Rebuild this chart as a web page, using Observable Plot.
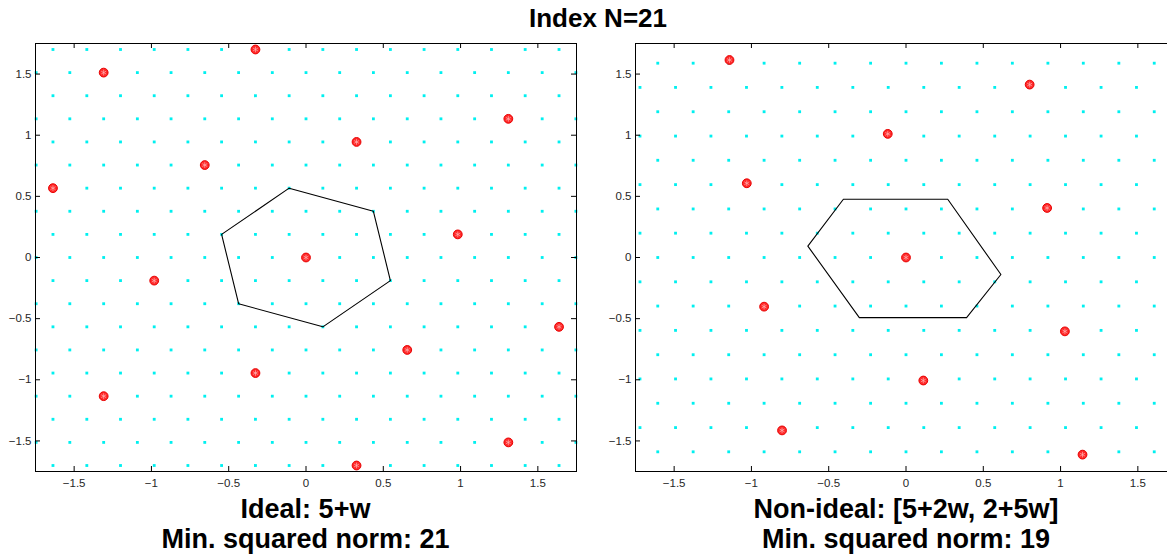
<!DOCTYPE html>
<html><head><meta charset="utf-8">
<script src="https://cdn.jsdelivr.net/npm/d3@7"></script>
<script src="https://cdn.jsdelivr.net/npm/@observablehq/plot@0.6"></script>
<style>
html,body{margin:0;padding:0;background:#fff;overflow:hidden;}
#fig{position:relative;width:1167px;height:557px;overflow:hidden;background:#fff;font-family:"Liberation Sans",Arial,Helvetica,sans-serif;}
.txt{position:absolute;font-weight:bold;color:#000;text-align:center;white-space:nowrap;transform:translateX(-50%);}
.panel{position:absolute;top:0;}
</style></head><body><div id="fig"></div>
<script>
// ---------- data ----------
const title = "Index N=21";
const leftCaption = ["Ideal: 5+w", "Min. squared norm: 21"];
const rightCaption = ["Non-ideal: [5+2w, 2+5w]", "Min. squared norm: 19"];

const ticks = [-1.5, -1, -0.5, 0, 0.5, 1, 1.5];
const tickLabels = ["\u22121.5", "\u22121", "\u22120.5", "0", "0.5", "1", "1.5"];

// left panel: cyan lattice rows/columns
const leftRowsA = [-1.512, -1.134, -0.756, -0.378, 0, 0.378, 0.756, 1.134, 1.512];
const leftColsA = [-1.746, -1.528, -1.309, -1.091, -0.873, -0.655, -0.436, -0.218, 0, 0.218, 0.436, 0.655, 0.873, 1.091, 1.309, 1.528, 1.746];
const leftRowsB = [-1.701, -1.323, -0.945, -0.567, -0.189, 0.189, 0.567, 0.945, 1.323, 1.701];
const leftColsB = [-1.637, -1.418, -1.200, -0.982, -0.764, -0.546, -0.327, -0.109, 0.109, 0.327, 0.546, 0.764, 0.982, 1.200, 1.418, 1.637];
// left panel: red sublattice points
const leftRedX = [-0.327, -1.309, 1.309, 0.327, -0.655, -1.637, 0.982, 0, -0.982, 1.637, 0.655, -0.327, -1.309, 1.309, 0.327];
const leftRedY = [1.701, 1.512, 1.134, 0.945, 0.756, 0.567, 0.189, 0, -0.189, -0.567, -0.756, -0.945, -1.134, -1.512, -1.701];
// left panel: cell polygon
const leftCellX = [-0.109, 0.436, 0.546, 0.109, -0.436, -0.546];
const leftCellY = [0.567, 0.378, -0.189, -0.567, -0.378, 0.189];

// right panel: cyan lattice rows/columns
const rightRowsA = [-1.589, -1.192, -0.795, -0.397, 0, 0.397, 0.795, 1.192, 1.589];
const rightColsA = [-1.606, -1.377, -1.147, -0.918, -0.688, -0.459, -0.229, 0, 0.229, 0.459, 0.688, 0.918, 1.147, 1.377, 1.606];
const rightRowsB = [-1.391, -0.993, -0.596, -0.199, 0.199, 0.596, 0.993, 1.391];
const rightColsB = [-1.721, -1.491, -1.262, -1.032, -0.803, -0.574, -0.344, -0.115, 0.115, 0.344, 0.574, 0.803, 1.032, 1.262, 1.491, 1.721];
// right panel: red points
const rightRedX = [-1.142, -1.030, -0.118, 0.800, 0.913, 0, -0.918, -0.802, 1.028, 0.112, 1.142];
const rightRedY = [1.615, 0.607, 1.011, 1.414, 0.405, 0, -0.402, -1.414, -0.604, -1.006, -1.612];
// right panel: cell polygon
const rightCellX = [-0.405, 0.270, 0.614, 0.392, -0.302, -0.635];
const rightCellY = [0.476, 0.476, -0.139, -0.492, -0.492, 0.093];

// ---------- build tables ----------
function lattice(rowsA, colsA, rowsB, colsB) {
  const pts = [];
  for (const y of rowsA) for (const x of colsA) pts.push({x, y});
  for (const y of rowsB) for (const x of colsB) pts.push({x, y});
  return pts;
}
const zip = (xs, ys) => xs.map((x, i) => ({x, y: ys[i]}));

const fmt = d => tickLabels[ticks.indexOf(d)];

function panel(dots, red, cell) {
  const W = 541, H = 428, mL = 35, mT = 43, mR = 10, mB = 30;
  const tick = 5;
  return Plot.plot({
    width: mL + W + mR,
    height: mT + H + mB,
    marginLeft: mL, marginRight: mR, marginTop: mT, marginBottom: mB,
    style: {fontFamily: '"Liberation Sans", Arial, Helvetica, sans-serif', fontSize: "11.5px", color: "#262626", background: "transparent", overflow: "visible"},
    x: {domain: [-1.75, 1.75], axis: null},
    y: {domain: [-1.75, 1.75], axis: null},
    marks: [
      Plot.dot(dots, {x: "x", y: "y", symbol: "square", r: 1.6, fill: "#00f0f0"}),
      Plot.line(cell, {x: "x", y: "y", curve: "linear-closed", stroke: "#000", strokeWidth: 1.1}),
      Plot.dot(red, {x: "x", y: "y", r: 4.4, fill: "#ff2a2a", stroke: "#e80000", strokeWidth: 1}),
      Plot.dot(red, {x: "x", y: "y", symbol: "asterisk", r: 2.6, stroke: "#ffb3b3", strokeWidth: 0.7}),
      Plot.frame({stroke: "#000", strokeWidth: 1}),
      Plot.ruleX(ticks, {x: d => d, insetTop: H - tick, stroke: "#000"}),
      Plot.ruleX(ticks, {x: d => d, insetBottom: H - tick, stroke: "#000"}),
      Plot.ruleY(ticks, {y: d => d, insetRight: W - tick, stroke: "#000"}),
      Plot.ruleY(ticks, {y: d => d, insetLeft: W - tick, stroke: "#000"}),
      Plot.axisX({ticks, tickSize: 0, tickPadding: 7, tickFormat: fmt, anchor: "bottom", fill: "#262626", label: null}),
      Plot.axisY({ticks, tickSize: 0, tickPadding: 4, tickFormat: fmt, anchor: "left", fill: "#262626", label: null})
    ]
  });
}

const fig = document.getElementById("fig");

const left = panel(lattice(leftRowsA, leftColsA, leftRowsB, leftColsB), zip(leftRedX, leftRedY), zip(leftCellX, leftCellY));
left.classList.add("panel");
left.style.left = "0px";
fig.appendChild(left);

const right = panel(lattice(rightRowsA, rightColsA, rightRowsB, rightColsB), zip(rightRedX, rightRedY), zip(rightCellX, rightCellY));
right.classList.add("panel");
right.style.left = "600px";
fig.appendChild(right);

function addText(lines, cx, top, size) {
  const d = document.createElement("div");
  d.className = "txt";
  d.style.left = cx + "px";
  d.style.top = top + "px";
  d.style.fontSize = size + "px";
  d.style.lineHeight = "30px";
  d.innerHTML = lines.map(s => s.replace(/&/g, "&amp;").replace(/</g, "&lt;")).join("<br>");
  fig.appendChild(d);
}
addText([title], 598, 3, 26);
addText(leftCaption, 305.5, 494, 27);
addText(rightCaption, 906, 494, 27);
</script></body></html>
